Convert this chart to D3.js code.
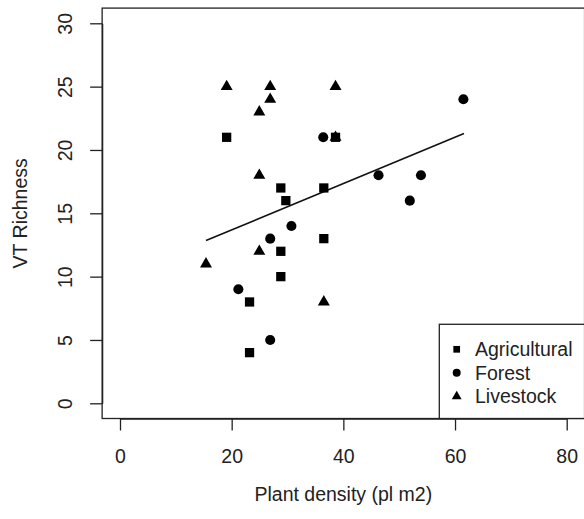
<!DOCTYPE html>
<html>
<head>
<meta charset="utf-8">
<script src="https://cdn.jsdelivr.net/npm/d3@7"></script>
<style>
  body { margin: 0; background: #fff; }
  text { font-family: "Liberation Sans", Arial, sans-serif; fill: #222; }
</style>
</head>
<body>
<script>

// plant density (x) and VT richness (y) per land use
var agri_x = [19.1, 38.6, 28.8, 36.5, 29.7, 36.5, 28.8, 28.8, 23.2, 23.2];
var agri_y = [21, 21, 17, 17, 16, 13, 12, 10, 8, 4];

var forest_x = [36.4, 61.5, 46.3, 53.9, 51.9, 30.7, 26.9, 21.2, 26.9];
var forest_y = [21, 24, 18, 18, 16, 14, 13, 9, 5];

var live_x = [19.1, 26.9, 38.6, 26.9, 24.95, 38.6, 24.95, 24.95, 15.4, 36.5];
var live_y = [25, 25, 25, 24, 23, 21, 18, 12, 11, 8];

var fit_x = [15.4, 61.6];
var fit_y = [12.85, 21.3];

var x_ticks = [0, 20, 40, 60, 80];
var y_ticks = [0, 5, 10, 15, 20, 25, 30];
var groups = ["Agricultural", "Forest", "Livestock"];

var width = 584, height = 519;
var font_size = 19.5;

var svg = d3.select("body")
            .append("svg")
            .attr("width", width)
            .attr("height", height);

// scales
var x_scale = d3.scaleLinear()
    .domain([0, 80])
    .range([120, 566.7]);

var y_scale = d3.scaleLinear()
    .domain([0, 30])
    .range([403.3, 23.3]);

// plot region is 4% wider than the axis range, like R does
var left = x_scale(-3.2), right = x_scale(83.2);
var top_y = y_scale(31.2), bottom = y_scale(-1.2);

var line_col = "#222";

// box round the plot
svg.append("rect")
    .attr("x", left)
    .attr("y", top_y)
    .attr("width", right - left)
    .attr("height", bottom - top_y)
    .attr("fill", "none")
    .attr("stroke", line_col)
    .attr("stroke-width", 1.3);

// x axis
var x_axis = d3.axisBottom(x_scale)
    .tickValues(x_ticks)
    .tickSize(12)
    .tickPadding(0)
    .tickSizeOuter(0);

var gx = svg.append("g")
    .attr("transform", "translate(0," + bottom + ")")
    .call(x_axis);

gx.select(".domain").attr("stroke", line_col).attr("stroke-width", 1.3);
gx.selectAll(".tick line").attr("stroke", line_col).attr("stroke-width", 1.3);
gx.selectAll(".tick text")
    .attr("y", 462.5 - bottom)
    .attr("dy", null)
    .attr("font-size", font_size)
    .attr("font-family", "Liberation Sans, Arial, sans-serif")
    .attr("fill", "#222");

// y axis
var y_axis = d3.axisLeft(y_scale)
    .tickValues(y_ticks)
    .tickSize(12)
    .tickSizeOuter(0);

var gy = svg.append("g")
    .attr("transform", "translate(" + left + ",0)")
    .call(y_axis);

gy.select(".domain").attr("stroke", line_col).attr("stroke-width", 1.3);
gy.selectAll(".tick line").attr("stroke", line_col).attr("stroke-width", 1.3);
gy.selectAll(".tick text")
    .attr("x", null)
    .attr("dy", null)
    .attr("transform", "translate(" + (72 - left) + ",0) rotate(-90)")
    .attr("text-anchor", "middle")
    .attr("font-size", font_size)
    .attr("font-family", "Liberation Sans, Arial, sans-serif")
    .attr("fill", "#222");

// axis titles
svg.append("text")
    .attr("x", x_scale(40))
    .attr("y", 501)
    .attr("text-anchor", "middle")
    .attr("font-size", font_size)
    .text("Plant density (pl m2)");

svg.append("text")
    .attr("transform", "translate(26.5," + ((top_y + bottom) / 2) + ") rotate(-90)")
    .attr("text-anchor", "middle")
    .attr("font-size", font_size)
    .text("VT Richness");

// fitted line
svg.append("line")
    .attr("x1", x_scale(fit_x[0]))
    .attr("y1", y_scale(fit_y[0]))
    .attr("x2", x_scale(fit_x[1]))
    .attr("y2", y_scale(fit_y[1]))
    .attr("stroke", "#111")
    .attr("stroke-width", 1.6);

// draw the points of one group
function draw_points(xs, ys, shape, size) {
    var pts = xs.map(function(d, i) { return [d, ys[i]]; });
    svg.append("g")
       .selectAll("path")
       .data(pts)
       .enter()
       .append("path")
       .attr("d", d3.symbol().type(shape).size(size))
       .attr("transform", function(d) {
         return "translate(" + x_scale(d[0]) + "," + y_scale(d[1]) + ")";
        })
       .attr("fill", "#000");
}

draw_points(agri_x, agri_y, d3.symbolSquare, 86);
draw_points(forest_x, forest_y, d3.symbolCircle, 80);
draw_points(live_x, live_y, d3.symbolTriangle, 62);

// legend
var legend = svg.append("g");
legend.append("rect")
    .attr("x", 439.3)
    .attr("y", 324.3)
    .attr("width", right - 439.3)
    .attr("height", bottom - 324.3)
    .attr("fill", "#fff")
    .attr("stroke", line_col)
    .attr("stroke-width", 1.3);

var legend_shapes = [d3.symbolSquare, d3.symbolCircle, d3.symbolTriangle];
var legend_sizes = [45, 50, 42];
var row_y = [349.3, 372.8, 396.5];

groups.forEach(function(g, i) {
    legend.append("path")
        .attr("d", d3.symbol().type(legend_shapes[i]).size(legend_sizes[i]))
        .attr("transform", "translate(456.7," + row_y[i] + ")")
        .attr("fill", "#000");
    legend.append("text")
        .attr("x", 475)
        .attr("y", row_y[i])
        .attr("dy", "0.35em")
        .attr("font-size", font_size)
        .text(g);
});

</script>
</body>
</html>
